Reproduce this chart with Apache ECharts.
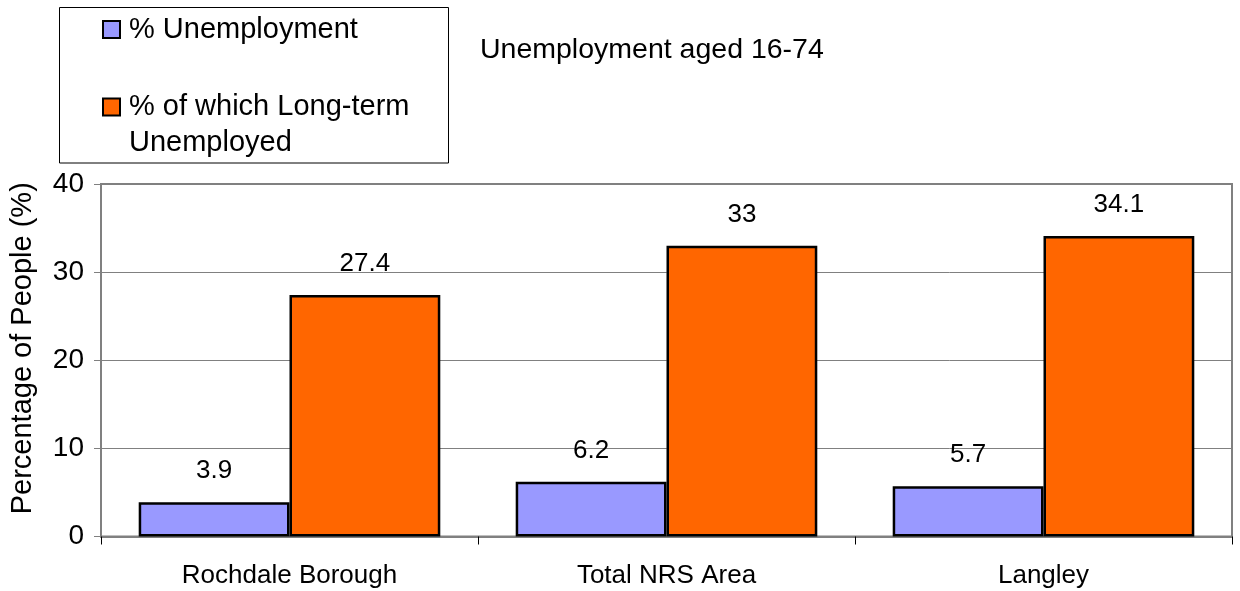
<!DOCTYPE html>
<html>
<head>
<meta charset="utf-8">
<script src="https://cdn.jsdelivr.net/npm/echarts@6/dist/echarts.min.js"></script>
<style>
html,body{margin:0;padding:0;background:#fff;}
#chart{width:1240px;height:591px;}
</style>
</head>
<body>
<div id="chart"></div>
<script>
const categories = ['Rochdale Borough', 'Total NRS Area', 'Langley'];
const unemployment = [3.9, 6.2, 5.7];
const longTerm = [27.4, 33, 34.1];
const seriesNames = ['% Unemployment', '% of which Long-term Unemployed'];
const yTicks = [0, 10, 20, 30, 40];
const titleText = 'Unemployment aged 16-74';
const yAxisName = 'Percentage of People (%)';

const FONT = "'Liberation Sans', Arial, sans-serif";
const chart = echarts.init(document.getElementById('chart'), null, {renderer: 'canvas'});

chart.setOption({
  animation: false,
  backgroundColor: '#ffffff',
  textStyle: {fontFamily: FONT, color: '#000'},
  title: {
    text: titleText,
    left: 480,
    top: 36,
    padding: 0,
    textStyle: {fontFamily: FONT, fontSize: 28.5, fontWeight: 'normal', color: '#000'}
  },
  graphic: [{
    type: 'rect',
    shape: {x: 59.5, y: 7.5, width: 389, height: 155.5},
    style: {fill: 'none', stroke: '#000', lineWidth: 1},
    silent: true
  }],
  legend: [{
    data: [seriesNames[0]],
    left: 102,
    top: 15,
    padding: 0,
    orient: 'vertical',
    itemWidth: 17,
    itemHeight: 17,
    icon: 'rect',
    itemStyle: {borderColor: '#000', borderWidth: 2},
    textStyle: {fontFamily: FONT, fontSize: 29, color: '#000', lineHeight: 29, padding: [0, 0, 0, 4]}
  }, {
    data: [seriesNames[1]],
    left: 102,
    top: 53,
    padding: 0,
    orient: 'vertical',
    itemWidth: 17,
    itemHeight: 17,
    icon: 'rect',
    itemStyle: {borderColor: '#000', borderWidth: 2},
    formatter: function () { return ' \n% of which Long-term\nUnemployed'; },
    textStyle: {fontFamily: FONT, fontSize: 29, color: '#000', lineHeight: 36, padding: [0, 0, 0, 4]}
  }],
  grid: {
    left: 97, right: 8, top: 184, bottom: 54.5,
    show: true, borderColor: '#808080', borderWidth: 2, backgroundColor: '#fff'
  },
  xAxis: {
    type: 'category',
    data: categories,
    axisLine: {show: true, lineStyle: {color: '#808080', width: 2}},
    axisTick: {show: true, length: 8, lineStyle: {color: '#000', width: 1}},
    axisLabel: {fontFamily: FONT, fontSize: 26, color: '#000', margin: 26},
    splitLine: {show: false}
  },
  yAxis: {
    type: 'value',
    min: yTicks[0],
    max: yTicks[yTicks.length - 1],
    interval: 10,
    name: yAxisName,
    nameLocation: 'middle',
    nameGap: 64,
    nameRotate: 90,
    nameTextStyle: {fontFamily: FONT, fontSize: 29, color: '#000', padding: [0, 0, 0, 24]},
    axisLine: {show: true, lineStyle: {color: '#808080', width: 2}},
    axisTick: {show: true, length: 7, lineStyle: {color: '#808080', width: 1}},
    axisLabel: {fontFamily: FONT, fontSize: 28, color: '#000', margin: 17},
    splitLine: {show: true, lineStyle: {color: '#808080', width: 1}}
  },
  series: [{
    name: seriesNames[0],
    type: 'bar',
    data: unemployment,
    barGap: '0%',
    barCategoryGap: '20%',
    itemStyle: {color: '#9999FF', borderColor: '#000', borderWidth: 2.5},
    label: {show: true, position: 'top', distance: 18, fontFamily: FONT, fontSize: 26, color: '#000'}
  }, {
    name: seriesNames[1],
    type: 'bar',
    data: longTerm,
    barGap: '0%',
    barCategoryGap: '20%',
    itemStyle: {color: '#FF6600', borderColor: '#000', borderWidth: 2.5},
    label: {show: true, position: 'top', distance: 18, fontFamily: FONT, fontSize: 26, color: '#000'}
  }]
});
</script>
</body>
</html>
